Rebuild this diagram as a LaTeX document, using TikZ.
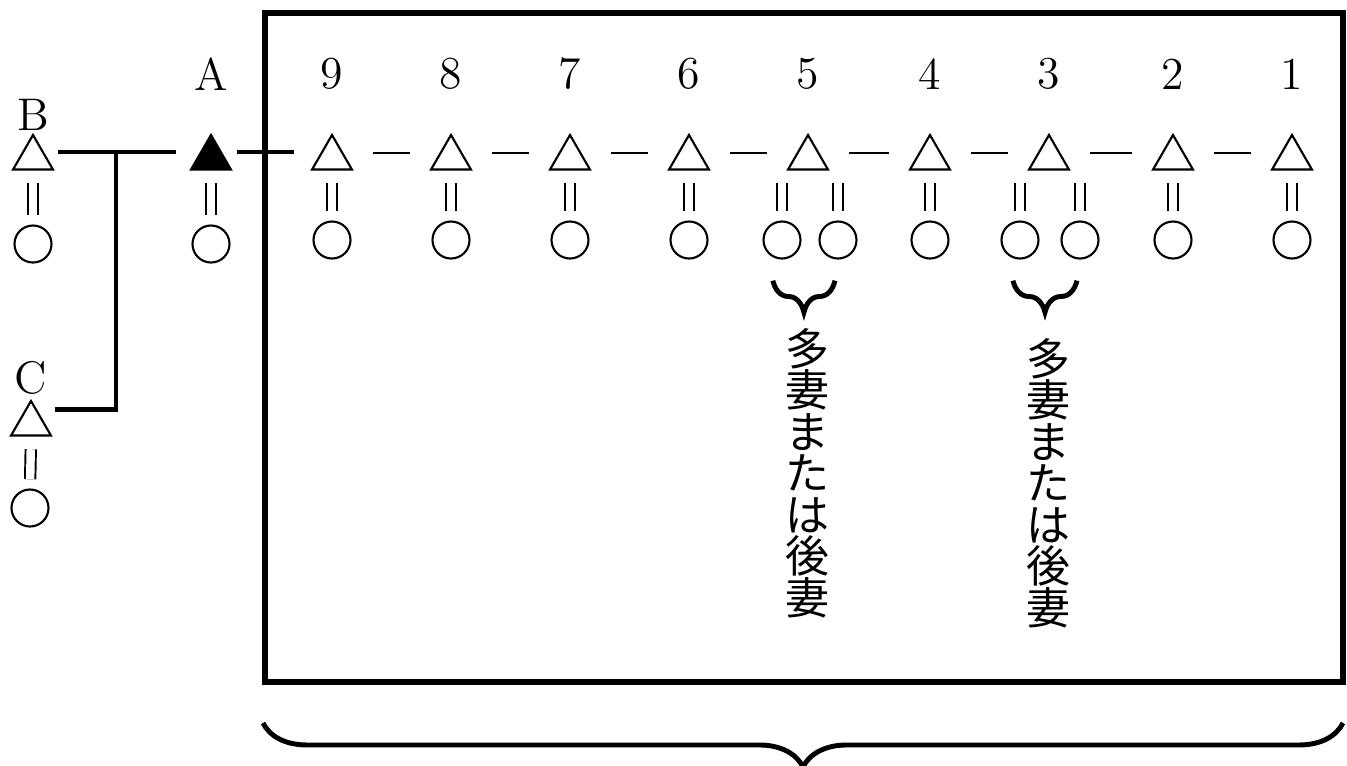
\documentclass[tikz,border=0pt]{standalone}
\usepackage{fontspec}
\newfontfamily\cjk{Noto Sans CJK JP}
\usetikzlibrary{shapes.geometric,decorations.pathreplacing}
\begin{document}
\begin{tikzpicture}[x=0.01cm,y=-0.01cm,
  tri/.style={draw, regular polygon, regular polygon sides=3, minimum size=0.46cm, inner sep=0pt, line width=0.6pt},
  ftri/.style={tri, fill=black},
  wife/.style={draw, circle, minimum size=0.37cm, inner sep=0pt, line width=0.6pt},
  lab/.style={font=\fontsize{13}{15}\selectfont, inner sep=0pt},
  kin/.style={line width=1.4pt},
  sib/.style={line width=0.6pt, shorten <=7.5pt, shorten >=7.5pt},
  eq/.style={double, double distance=2.4pt, line width=0.55pt, shorten <=3.6pt, shorten >=2.6pt},
  frame/.style={line width=1.7pt},
  brc/.style={decorate, decoration={brace, mirror, amplitude=9pt}, line width=1.4pt},
  bigbrc/.style={decorate, decoration={brace, mirror, amplitude=12.5pt}, line width=1.4pt},
  vtext/.style={font=\cjk\fontsize{12.5}{11.8}\selectfont, align=center, inner sep=0pt}
]
\useasboundingbox (0,0) rectangle (1347,766);

% frame
\draw[frame] (265,13) rectangle (1343,682);

% labels
\node[lab] (lB) at (33,115) {B};
\node[lab] (lC) at (31,378) {C};
\node[lab] (lA) at (211,74) {A};
\foreach \n/\x in {9/332,8/451,7/570,6/689,5/808,4/930,3/1049,2/1173,1/1292}
  \node[lab] (l\n) at (\x,74) {\n};

% triangles
\node[tri] (B) at (33,158) {};
\node[tri] (C) at (31,424) {};
\node[ftri] (A) at (211,158) {};
\foreach \n/\x in {9/332,8/451,7/570,6/689,5/808,4/930,3/1049,2/1173,1/1292}
  \node[tri] (t\n) at (\x,158) {};

% circles
\node[wife] (cB) at (33,244) {};
\node[wife] (cC) at (30,508) {};
\node[wife] (cA) at (211,244) {};
\foreach \n/\x in {9/332,8/451,7/570,6/689,4/930,2/1173,1/1292}
  \node[wife] (c\n) at (\x,240) {};
\node[wife] (c5a) at (782,240) {};
\node[wife] (c5b) at (838,240) {};
\node[wife] (c3a) at (1020,240) {};
\node[wife] (c3b) at (1080,240) {};

% marriage signs
\foreach \n in {B,C,A}
  \draw[eq] (\n.south) -- (c\n.north);
\foreach \n in {9,8,7,6,4,2,1}
  \draw[eq] (t\n.south) -- (c\n.north);
\foreach \w/\h in {5a/5,5b/5,3a/3,3b/3}
  \draw[eq] (c\w.north |- t\h.south) -- (c\w.north);

% kinship lines
\coordinate (j) at (116,152);
\draw[kin, shorten <=3pt, shorten >=5.7pt] ([yshift=1.7pt]B.east) -- ([yshift=1.7pt]A.west);
\draw[kin, shorten >=2.8pt] (j) |- ([yshift=4pt]C.east);
\draw[kin, shorten <=3.4pt, shorten >=6.8pt] ([yshift=1.7pt]A.east) -- ([yshift=1.7pt]t9.west);

% sibling dashes
\foreach \a/\b in {9/8,8/7,7/6,6/5,5/4,4/3,3/2,2/1}
  \draw[sib] ([yshift=1.4pt]t\a.east) -- ([yshift=1.4pt]t\b.west);

% small braces
\draw[brc] ([xshift=-2.6pt,yshift=-6pt]c5a.south) -- ([xshift=-0.85pt,yshift=-6pt]c5b.south);
\draw[brc] ([xshift=-2pt,yshift=-6pt]c3a.south) -- ([xshift=-0.85pt,yshift=-6pt]c3b.south);

% vertical texts
\node[vtext] (v5) at (807,473) {多\\妻\\ま\\た\\は\\後\\妻};
\node[vtext] (v3) at (1048,483) {多\\妻\\ま\\た\\は\\後\\妻};

% bottom brace
\draw[bigbrc] (263,723) -- (1343,723);
\end{tikzpicture}
\end{document}
